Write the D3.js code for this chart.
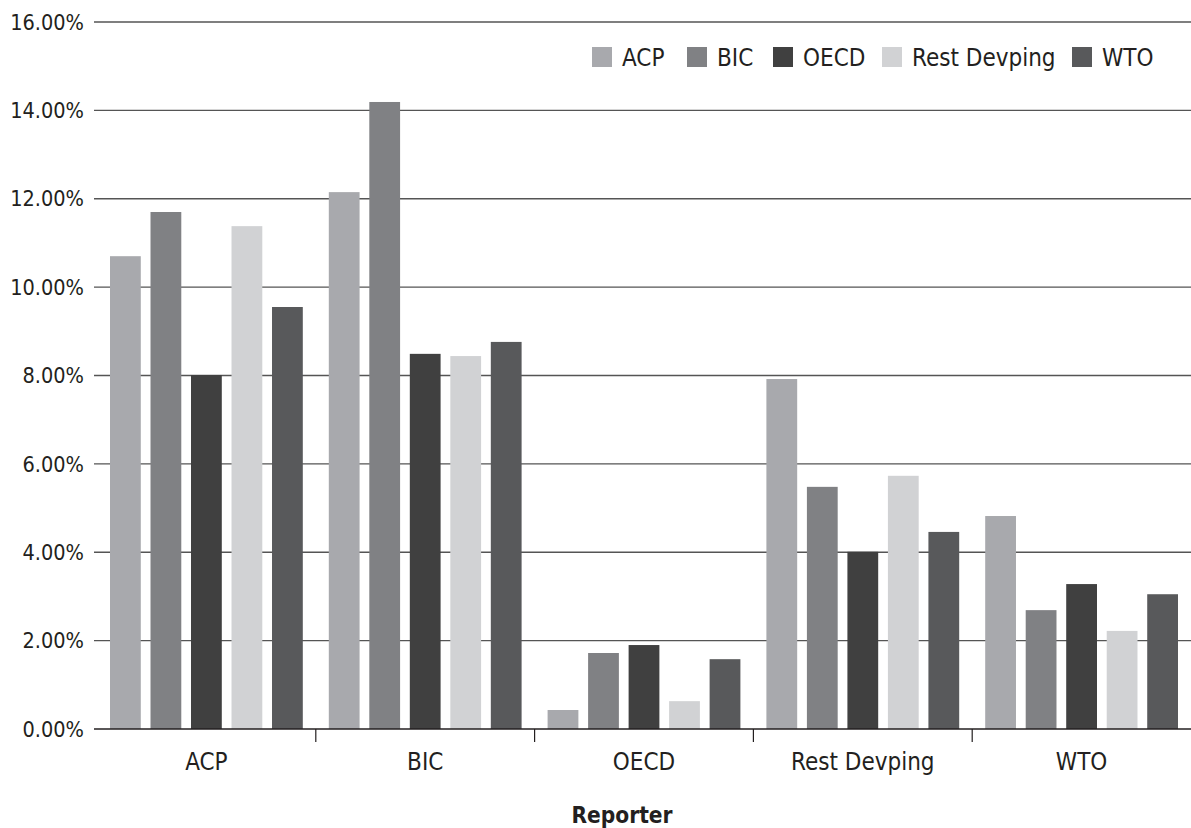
<!DOCTYPE html>
<html>
<head>
<meta charset="utf-8">
<script src="https://cdn.jsdelivr.net/npm/d3@7"></script>
<style>
  body { margin: 0; background: #fff; }
  svg text { font-family: "DejaVu Sans Condensed", "DejaVu Sans", sans-serif; fill: #231f20; }
</style>
</head>
<body>
<div id="chart"></div>
<script>
// categories (reporter) and series (partner)
const reporters = ["ACP", "BIC", "OECD", "Rest Devping", "WTO"];
const partners = ["ACP", "BIC", "OECD", "Rest Devping", "WTO"];
const colors = ["#a8a9ad", "#808184", "#404040", "#d1d2d4", "#58595b"];

// values in percent, one array per partner series (ordered by reporter)
const acpVals  = [10.70, 12.15, 0.43, 7.92, 4.82];
const bicVals  = [11.70, 14.19, 1.72, 5.48, 2.69];
const oecdVals = [8.01, 8.49, 1.90, 4.01, 3.28];
const restVals = [11.38, 8.44, 0.63, 5.73, 2.22];
const wtoVals  = [9.55, 8.76, 1.58, 4.46, 3.05];
const yTicks = [0, 2, 4, 6, 8, 10, 12, 14, 16];

const seriesVals = [acpVals, bicVals, oecdVals, restVals, wtoVals];

const W = 1191, H = 828;
const margin = { top: 22, right: 0, bottom: 99, left: 97 },
    width = W - margin.left - margin.right,
    height = H - margin.top - margin.bottom;

const svg = d3.select("#chart")
    .append("svg")
    .attr("width", W)
    .attr("height", H)
    .append("g")
    .attr("transform", `translate(${margin.left},${margin.top})`);

const x0 = d3.scaleBand()
    .domain(reporters)
    .range([0, width]);

const x1 = d3.scaleBand()
    .domain(partners)
    .range([13, x0.bandwidth() - 13])
    .paddingInner(0.24);

const y = d3.scaleLinear()
    .domain([0, 16])
    .range([height, 0]);

// gridlines + y labels
const grid = svg.append("g");
grid.selectAll("line")
    .data(yTicks.filter(d => d > 0))
    .join("line")
    .attr("x1", -3)
    .attr("x2", width)
    .attr("y1", d => y(d))
    .attr("y2", d => y(d))
    .attr("stroke", "#555")
    .attr("stroke-width", 1.4);

grid.selectAll("text")
    .data(yTicks)
    .join("text")
    .attr("x", -13)
    .attr("y", d => y(d))
    .attr("dy", "0.36em")
    .attr("text-anchor", "end")
    .style("font-size", "21.5px")
    .text(d => d.toFixed(2) + "%");

// bars
const rows = reporters.map((r, i) => ({
    reporter: r,
    values: partners.map((p, j) => ({ partner: p, value: seriesVals[j][i], color: colors[j] }))
}));

svg.append("g")
    .selectAll("g")
    .data(rows)
    .join("g")
    .attr("transform", d => `translate(${x0(d.reporter)},0)`)
    .selectAll("rect")
    .data(d => d.values)
    .join("rect")
    .attr("x", d => x1(d.partner))
    .attr("width", x1.bandwidth())
    .attr("y", d => y(d.value))
    .attr("height", d => y(0) - y(d.value))
    .attr("fill", d => d.color);

// baseline and category ticks
svg.append("line")
    .attr("x1", -3).attr("x2", width)
    .attr("y1", y(0)).attr("y2", y(0))
    .attr("stroke", "#231f20")
    .attr("stroke-width", 1.4);

svg.append("g")
    .selectAll("line")
    .data(reporters.slice(1))
    .join("line")
    .attr("x1", d => x0(d)).attr("x2", d => x0(d))
    .attr("y1", y(0)).attr("y2", y(0) + 13)
    .attr("stroke", "#231f20")
    .attr("stroke-width", 1.2);

svg.append("g")
    .selectAll("text")
    .data(reporters)
    .join("text")
    .attr("x", d => x0(d) + x0.bandwidth() / 2)
    .attr("y", y(0) + 32)
    .attr("dy", "0.36em")
    .attr("text-anchor", "middle")
    .style("font-size", "24px")
    .text(d => d);

svg.append("text")
    .attr("x", width / 2 - 22)
    .attr("y", y(0) + 86)
    .attr("dy", "0.36em")
    .attr("text-anchor", "middle")
    .style("font-size", "22.5px")
    .style("font-weight", "bold")
    .text("Reporter");

// legend
const legendX = [495, 590, 676, 785, 975];
const leg = svg.append("g")
    .selectAll("g")
    .data(partners)
    .join("g")
    .attr("transform", (d, i) => `translate(${legendX[i]},35)`);

leg.append("rect")
    .attr("width", 20).attr("height", 20)
    .attr("y", -10)
    .attr("fill", (d, i) => colors[i]);

leg.append("text")
    .attr("x", 30)
    .attr("dy", "0.36em")
    .style("font-size", "24px")
    .text(d => d);
</script>
</body>
</html>
